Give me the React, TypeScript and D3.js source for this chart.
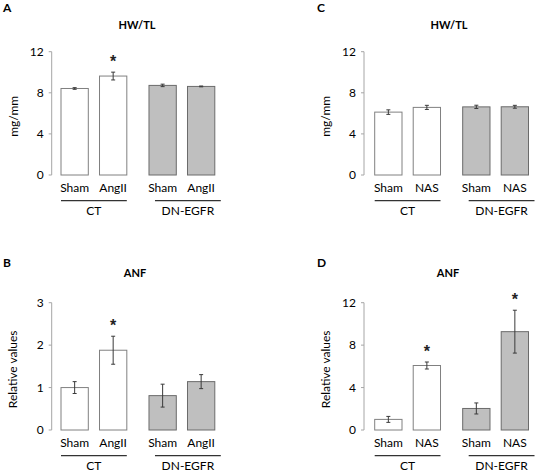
import React from "react";
import * as d3 from "d3";

const groups = ["CT", "DN-EGFR"];
const treatmentsAng = ["Sham", "AngII"];
const treatmentsNas = ["Sham", "NAS"];

// Panel A: HW/TL, AngII
const hwtlAngMean = [8.42, 9.63, 8.72, 8.62];
const hwtlAngErr = [0.08, 0.38, 0.12, 0.04];
const hwtlAngStar = [false, true, false, false];
// Panel B: ANF, AngII
const anfAngMean = [1.0, 1.88, 0.81, 1.14];
const anfAngErr = [0.14, 0.33, 0.27, 0.165];
const anfAngStar = [false, true, false, false];
// Panel C: HW/TL, NAS
const hwtlNasMean = [6.12, 6.58, 6.63, 6.64];
const hwtlNasErr = [0.22, 0.2, 0.16, 0.14];
const hwtlNasStar = [false, false, false, false];
// Panel D: ANF, NAS
const anfNasMean = [1.0, 6.08, 2.03, 9.27];
const anfNasErr = [0.28, 0.33, 0.52, 2.02];
const anfNasStar = [false, true, false, true];

const ticksHw = [0, 4, 8, 12];
const ticksAnfAng = [0, 1, 2, 3];
const ticksAnfNas = [0, 4, 8, 12];

const FONT = "Lato, 'Open Sans', sans-serif";
const groupFills = ["#ffffff", "#bfbfbf"];
const groupStrokes = ["#808080", "#6b6b6b"];

type PanelProps = {
  letter: string; letterX: number; letterY: number;
  title: string; titleX: number; titleY: number;
  yLabel: string; yLabelX: number;
  axisX: number; yTop: number; yBottom: number; barStart: number;
  domainMax: number; ticks: number[];
  treatments: string[]; means: number[]; errs: number[]; stars: boolean[];
};

function Panel(p: PanelProps) {
  const y = d3.scaleLinear().domain([0, p.domainMax]).range([p.yBottom, p.yTop]);
  const outer = d3.scaleBand<string>().domain(groups).range([p.barStart, p.barStart + 153.8]).paddingInner(0.252).paddingOuter(0);
  const inner = d3.scaleBand<string>().domain(p.treatments).range([0, outer.bandwidth()]).paddingInner(0.291).paddingOuter(0);
  const bars = groups.flatMap((g, gi) =>
    p.treatments.map((t, ti) => ({ g, gi, t, i: gi * p.treatments.length + ti }))
  );
  const bw = inner.bandwidth();
  return (
    <g>
      <text x={p.letterX} y={p.letterY} fontFamily={FONT} fontWeight="bold" fontSize={12} fill="#000">{p.letter}</text>
      <text x={p.titleX} y={p.titleY} fontFamily={FONT} fontWeight="bold" fontSize={11} fill="#000" textAnchor="middle">{p.title}</text>
      <text transform={`translate(${p.yLabelX},${(p.yTop + p.yBottom) / 2 + 3}) rotate(-90)`} fontFamily={FONT} fontSize={12} fill="#000" textAnchor="middle" dominantBaseline="central">{p.yLabel}</text>
      <line x1={p.axisX} x2={p.axisX} y1={p.yTop} y2={p.yBottom} stroke="#a6a6a6" strokeWidth={1} />
      {p.ticks.map((t) => (
        <g key={t}>
          <line x1={p.axisX - 3} x2={p.axisX} y1={y(t)} y2={y(t)} stroke="#a6a6a6" />
          <text x={p.axisX - 8} y={y(t)} dy="0.35em" textAnchor="end" fontFamily={FONT} fontSize={12} fill="#000">{t}</text>
        </g>
      ))}
      {bars.map((b) => {
        const x0 = (outer(b.g) as number) + (inner(b.t) as number);
        const cx = x0 + bw / 2;
        const m = p.means[b.i];
        const e = p.errs[b.i];
        return (
          <g key={b.i}>
            <rect x={x0} y={y(m)} width={bw} height={p.yBottom - y(m)} fill={groupFills[b.gi]} stroke={groupStrokes[b.gi]} strokeWidth={1} />
            <line x1={cx} x2={cx} y1={y(m + e)} y2={y(m - e)} stroke="#3a3a3a" strokeWidth={1} />
            <line x1={cx - 2} x2={cx + 2} y1={y(m + e)} y2={y(m + e)} stroke="#3a3a3a" strokeWidth={1} />
            <line x1={cx - 2} x2={cx + 2} y1={y(m - e)} y2={y(m - e)} stroke="#3a3a3a" strokeWidth={1} />
            {p.stars[b.i] && (
              <text x={cx} y={y(m + e) - 14 + 9} textAnchor="middle" fontFamily="'Liberation Sans', Arial, sans-serif" fontWeight="bold" fontSize={16} fill="#222">*</text>
            )}
            <text x={cx} y={p.yBottom + 17} textAnchor="middle" fontFamily={FONT} fontSize={12} fill="#000">{b.t}</text>
          </g>
        );
      })}
      {groups.map((g, gi) => {
        const gx = (outer(g) as number) + gi * 6;
        return (
          <g key={g}>
            <line x1={gx} x2={gx + outer.bandwidth()} y1={p.yBottom + 25.7} y2={p.yBottom + 25.7} stroke="#333" strokeWidth={1.3} />
            <text x={gx + outer.bandwidth() / 2} y={p.yBottom + 40} textAnchor="middle" fontFamily={FONT} fontSize={12} fill="#000">{g}</text>
          </g>
        );
      })}
    </g>
  );
}

export default function App() {
  return (
    <svg width={537} height={473} style={{ position: "absolute", left: 0, top: 0, background: "#fff" }}>
      <rect width={537} height={473} fill="#fff" />
      <Panel letter="A" letterX={3} letterY={12} title="HW/TL" titleX={137} titleY={29} yLabel="mg/mm" yLabelX={13}
        axisX={51.7} yTop={51.7} yBottom={175} barStart={61} domainMax={12} ticks={ticksHw}
        treatments={treatmentsAng} means={hwtlAngMean} errs={hwtlAngErr} stars={hwtlAngStar} />
      <Panel letter="C" letterX={317} letterY={12} title="HW/TL" titleX={449} titleY={29} yLabel="mg/mm" yLabelX={325}
        axisX={364} yTop={51.7} yBottom={175} barStart={374.7} domainMax={12} ticks={ticksHw}
        treatments={treatmentsNas} means={hwtlNasMean} errs={hwtlNasErr} stars={hwtlNasStar} />
      <Panel letter="B" letterX={3} letterY={267} title="ANF" titleX={135} titleY={277} yLabel="Relative values" yLabelX={12}
        axisX={51.7} yTop={302.7} yBottom={430} barStart={61} domainMax={3} ticks={ticksAnfAng}
        treatments={treatmentsAng} means={anfAngMean} errs={anfAngErr} stars={anfAngStar} />
      <Panel letter="D" letterX={317} letterY={267} title="ANF" titleX={448} titleY={277} yLabel="Relative values" yLabelX={325}
        axisX={364} yTop={302.7} yBottom={430} barStart={374.7} domainMax={12} ticks={ticksAnfNas}
        treatments={treatmentsNas} means={anfNasMean} errs={anfNasErr} stars={anfNasStar} />
    </svg>
  );
}
